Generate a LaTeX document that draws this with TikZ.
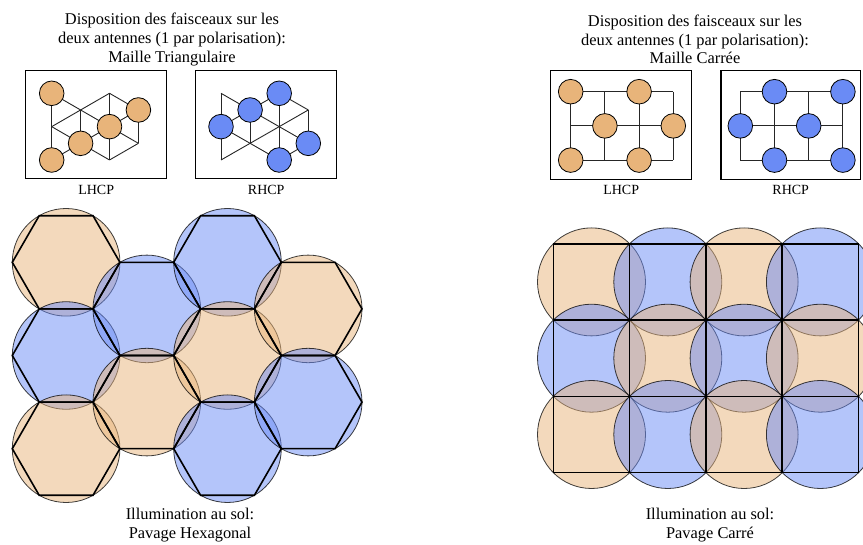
\documentclass[tikz,border=0pt]{standalone}
\usepackage{fontspec}
\setmainfont{Liberation Serif}
\definecolor{orB}{RGB}{232,180,122}
\definecolor{blB}{RGB}{106,139,245}
\tikzset{
  frame/.style={draw=black, line width=1.2pt},
  latt/.style={draw=black!85, line width=0.9pt},
  sdot/.style={circle, draw=black, line width=0.8pt, minimum size=24.6pt, inner sep=0pt},
  odot/.style={sdot, fill=orB},
  bdot/.style={sdot, fill=blB},
  beam/.style={draw=black, draw opacity=0.75, line width=0.8pt, fill opacity=0.5},
  obeam/.style={beam, fill=orB},
  bbeam/.style={beam, fill=blB},
  cell/.style={draw=black, line width=1.6pt, line join=miter},
  ttl/.style={align=center, font=\fontsize{16.4}{18.8}\selectfont, inner sep=0pt},
  lbl/.style={font=\fontsize{14}{16}\selectfont, inner sep=0pt},
}
\newcommand\trilattice[1]{%
  \coordinate (#1a0) at (0,0);   \coordinate (#1a1) at (0,1);   \coordinate (#1a2) at (0,2);
  \coordinate (#1b0) at (1,0.5); \coordinate (#1b1) at (1,1.5);
  \coordinate (#1c0) at (2,0);   \coordinate (#1c1) at (2,1);   \coordinate (#1c2) at (2,2);
  \coordinate (#1d0) at (3,0.5); \coordinate (#1d1) at (3,1.5);
  \draw[latt] (#1a0) -- (#1a2);
  \draw[latt] (#1a0) -- (#1b0) -- (#1c1) -- (#1d1);
  \draw[latt] (#1a1) -- (#1b0) -- (#1c0);
  \draw[latt] (#1a1) -- (#1b1) -- (#1c2);
  \draw[latt] (#1a2) -- (#1b1) -- (#1c1) -- (#1d0);
  \draw[latt] (#1b0) -- (#1b1);
  \draw[latt] (#1c0) -- (#1c2);
  \draw[latt] (#1d0) -- (#1d1);
  \draw[latt] (#1c0) -- (#1d0);
  \draw[latt] (#1c2) -- (#1d1);
}
\newcommand\sqlattice[1]{%
  \foreach \i in {0,1,2,3}{\foreach \j in {0,1,2}{\coordinate (#1\i\j) at (\i,\j);}}
  \foreach \j in {0,1,2}{\draw[latt] (#10\j) -- (#13\j);}
  \foreach \i in {0,1,2,3}{\draw[latt] (#1\i0) -- (#1\i2);}
}
\begin{document}
\begin{tikzpicture}[x=1pt, y=-1pt]
\useasboundingbox (0,0) rectangle (863,545);
\clip (0,0) rectangle (863,545);

% ---------- titles ----------
\node[ttl] (t1) at (172,39.5) {Disposition des faisceaux sur les\\deux antennes (1 par polarisation):\\Maille Triangulaire};
\node[ttl] (t2) at (695,39.5) {Disposition des faisceaux sur les\\deux antennes (1 par polarisation):\\Maille Carrée};

% ---------- small boxes: triangular ----------
\draw[frame] (25.7,70.7) rectangle (166.7,178.3);
\node[lbl] (l1) at (96.2,190) {LHCP};
\begin{scope}[shift={(51.7,93.3)}, x=28.9pt, y=-33.35pt]
  \trilattice{L}
  \foreach \p in {a0,a2,b1,c1,d0} \node[odot] (Ld\p) at (L\p) {};
\end{scope}

\draw[frame] (195.7,70.7) rectangle (336.7,178.3);
\node[lbl] (r1) at (266.2,190) {RHCP};
\begin{scope}[shift={(221,93.3)}, x=29.1pt, y=-33.35pt]
  \trilattice{R}
  \foreach \p in {a1,b0,c0,c2,d1} \node[bdot] (Rd\p) at (R\p) {};
\end{scope}

% ---------- small boxes: square ----------
\draw[frame] (550.7,70.7) rectangle (691.7,179.3);
\node[lbl] (l2) at (621.2,190) {LHCP};
\begin{scope}[shift={(570.7,91.7)}, x=34.2pt, y=-34.2pt]
  \sqlattice{S}
  \foreach \p in {00,20,11,31,02,22} \node[odot] (Sd\p) at (S\p) {};
\end{scope}

\draw[frame] (721,70.7) rectangle (860.3,179.3);
\node[lbl] (r2) at (790.7,190) {RHCP};
\begin{scope}[shift={(740.3,91.7)}, x=34.2pt, y=-34.2pt]
  \sqlattice{T}
  \foreach \p in {10,30,01,21,12,32} \node[bdot] (Td\p) at (T\p) {};
\end{scope}

% ---------- hexagonal paving ----------
\begin{scope}[shift={(66.1,262.3)}, x=80.7pt, y=-93.2pt]
  \coordinate (h1) at (0,0);   \coordinate (h2) at (0,1);   \coordinate (h3) at (0,2);
  \coordinate (h4) at (1,0.5); \coordinate (h5) at (1,1.5);
  \coordinate (h6) at (2,0);   \coordinate (h7) at (2,1);   \coordinate (h8) at (2,2);
  \coordinate (h9) at (3,0.5); \coordinate (h10) at (3,1.5);
\end{scope}
\foreach \c/\s in {h1/obeam,h2/bbeam,h3/obeam,h4/bbeam,h5/obeam,h6/bbeam,h7/obeam,h8/bbeam,h9/obeam,h10/bbeam}
  \draw[\s] (\c) circle[radius=53.8];
\foreach \c in {h1,h2,h3,h4,h5,h6,h7,h8,h9,h10}
  \draw[cell] (\c) +(0:53.8) -- +(60:53.8) -- +(120:53.8) -- +(180:53.8) -- +(240:53.8) -- +(300:53.8) -- cycle;
\node[ttl] (b1) at (190,525) {Illumination au sol:\\Pavage Hexagonal};

% ---------- square paving ----------
\begin{scope}[shift={(591.5,281.9)}, x=76.3pt, y=-76.3pt]
  \foreach \i in {0,1,2,3}{\foreach \j in {0,1,2}{\coordinate (q\i\j) at (\i,\j);}}
\end{scope}
\foreach \i/\j/\s in {0/0/obeam,1/0/bbeam,2/0/obeam,3/0/bbeam,
                     0/1/bbeam,1/1/obeam,2/1/bbeam,3/1/obeam,
                     0/2/obeam,1/2/bbeam,2/2/obeam,3/2/bbeam}
  \draw[\s] (q\i\j) circle[radius=54];
\foreach \i in {0,1,2,3}{\foreach \j in {0,1,2}{
  \draw[cell] (q\i\j) +(-38.15,-38.15) rectangle +(38.15,38.15);}}
\node[ttl] (b2) at (710,525) {Illumination au sol:\\Pavage Carré};
\end{tikzpicture}
\end{document}
